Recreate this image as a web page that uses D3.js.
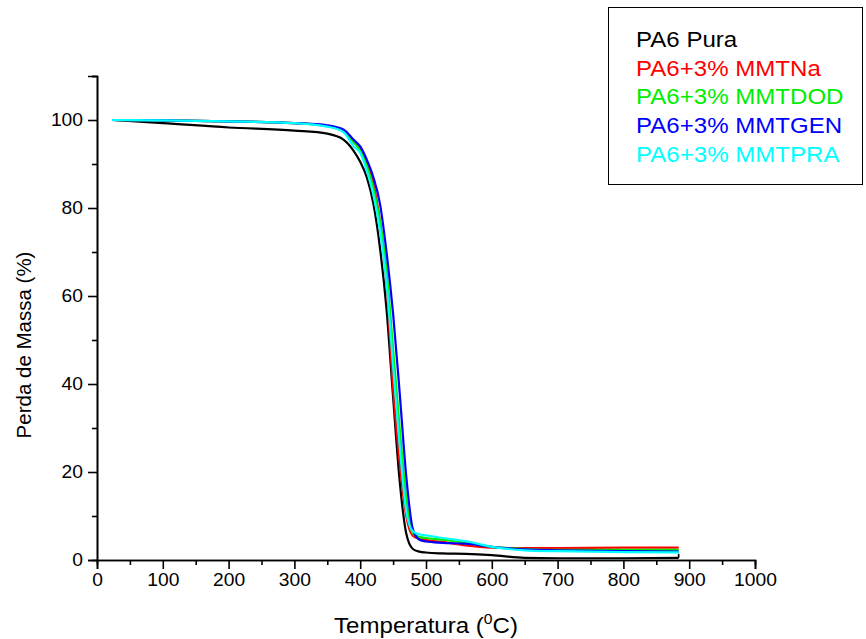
<!DOCTYPE html>
<html><head><meta charset="utf-8">
<script src="https://cdn.jsdelivr.net/npm/d3@7"></script>
<style>body{margin:0;background:#fff}svg{display:block}text{font-family:Arial,"Liberation Sans",sans-serif}</style>
</head><body>
<svg id="c" width="866" height="639"></svg>
<script>
// Data (temperature in °C, mass in %)
const temps      = [23, 100, 200, 300, 350, 375, 390, 400, 410, 420, 430, 440, 450, 460, 470, 480, 490, 500, 525, 560, 600, 650, 700, 800, 884];
const pa6Pura    = [100, 99.3, 98.3, 97.6, 96.9, 95.5, 93, 90.5, 87, 81, 71, 57, 37, 18, 6, 2.5, 1.9, 1.7, 1.5, 1.4, 1.1, 0.5, 0.4, 0.4, 0.5];
const mmtNa      = [100, 99.9, 99.7, 99.3, 98.7, 97.6, 95, 93.5, 90, 85.5, 77, 63, 39, 22, 10, 5.5, 4.8, 4.5, 4.1, 3.3, 2.8, 2.7, 2.7, 2.8, 2.8];
const mmtDOD     = [100, 99.9, 99.7, 99.3, 98.6, 97.4, 95, 93, 89.5, 84.5, 77, 66, 48, 30, 14, 6, 5.2, 5.0, 4.6, 3.9, 3.0, 2.5, 2.3, 2.3, 2.3];
const mmtGEN     = [100, 99.9, 99.7, 99.3, 98.8, 97.8, 95.5, 94, 91, 87, 81, 70, 56, 38, 19, 7, 4.6, 4.2, 3.9, 3.7, 3.0, 2.4, 2.2, 2.0, 1.9];
const mmtPRA     = [100, 99.9, 99.7, 99.3, 98.5, 97.2, 94, 92.5, 88.5, 83, 75, 63, 44, 26, 11, 6.5, 5.8, 5.6, 5.0, 4.3, 3.0, 2.2, 2.0, 1.8, 1.75];
const pa6EndRise = 1.4;
const seriesNames  = ["PA6 Pura", "PA6+3% MMTNa", "PA6+3% MMTDOD", "PA6+3% MMTGEN", "PA6+3% MMTPRA"];
const seriesColors = ["#000000", "#ff0000", "#00ee00", "#0000ff", "#00ffff"];
const seriesValues = [pa6Pura, mmtNa, mmtDOD, mmtGEN, mmtPRA];
const xTicks = [0, 100, 200, 300, 400, 500, 600, 700, 800, 900, 1000];
const yTicks = [0, 20, 40, 60, 80, 100];

const SX = 1.1; // horizontal stretch of glyphs in the original rendering
const svg = d3.select("#c");
const x = d3.scaleLinear().domain([0, 1000]).range([97, 755]);
const y = d3.scaleLinear().domain([0, 110]).range([560, 76]);

const xAxis = d3.axisBottom(x).tickValues(xTicks).tickSize(9).tickPadding(5).tickFormat(d3.format("d"));
const xMinor = d3.axisBottom(x).tickValues(d3.range(50, 1000, 100)).tickSize(5).tickFormat("");
const yAxis = d3.axisLeft(y).tickValues(yTicks).tickSize(9).tickPadding(5).tickFormat(d3.format("d"));
const yMinor = d3.axisLeft(y).tickValues(d3.range(10, 111, 20)).tickSize(5).tickFormat("");

function style(g){
  g.select(".domain").attr("stroke","#000").attr("stroke-width",1.6);
  g.selectAll(".tick line").attr("stroke","#000").attr("stroke-width",1.6);
  g.selectAll(".tick text").attr("fill","#000").style("font-size","17.5px")
    .each(function(){
      const t = d3.select(this);
      const xv = +t.attr("x") || 0;
      t.attr("x", xv / SX).attr("transform", `scale(${SX},1)`);
    });
}
svg.append("g").attr("transform","translate(0,560)").call(xMinor).call(style);
svg.append("g").attr("transform","translate(0,560)").call(xAxis).call(style);
svg.append("g").attr("transform","translate(97,0)").call(yMinor).call(style);
svg.append("g").attr("transform","translate(97,0)").call(yAxis).call(style);

// lines
const line = d3.line().x(d => x(d[0])).y(d => y(d[1])).curve(d3.curveMonotoneX);
seriesValues.forEach((vals, i) => {
  const pts = temps.map((t, j) => [t, vals[j]]);
  svg.append("path").attr("d", line(pts)).attr("fill","none")
    .attr("stroke", seriesColors[i]).attr("stroke-width", 2.2).attr("stroke-linejoin","round");
  if (i === 0) {
    const last = temps[temps.length-1];
    svg.append("path").attr("d", d3.line()([[x(last), y(vals[vals.length-1])],[x(last), y(pa6EndRise)]]))
      .attr("stroke", seriesColors[0]).attr("stroke-width", 1.6).attr("fill","none");
  }
});

// axis titles
svg.append("text").attr("transform","translate(31,345) rotate(-90)").attr("text-anchor","middle")
  .style("font-size","20.5px").text("Perda de Massa (%)");
const xt = svg.append("text").attr("transform",`translate(426,633) scale(1.12,1)`).attr("text-anchor","middle").style("font-size","21.5px");
xt.append("tspan").text("Temperatura (");
xt.append("tspan").attr("dy",-9).style("font-size","14px").text("0");
xt.append("tspan").attr("dy",9).text("C)");

// legend
svg.append("rect").attr("x",608.5).attr("y",7.5).attr("width",254).attr("height",177)
  .attr("fill","#fff").attr("stroke","#000").attr("stroke-width",1);
seriesNames.forEach((n, i) => {
  svg.append("text").attr("transform",`translate(636,${47 + i*28.7}) scale(1.12,1)`).attr("fill",seriesColors[i])
    .style("font-size","21.5px").text(n);
});
</script>
</body></html>
